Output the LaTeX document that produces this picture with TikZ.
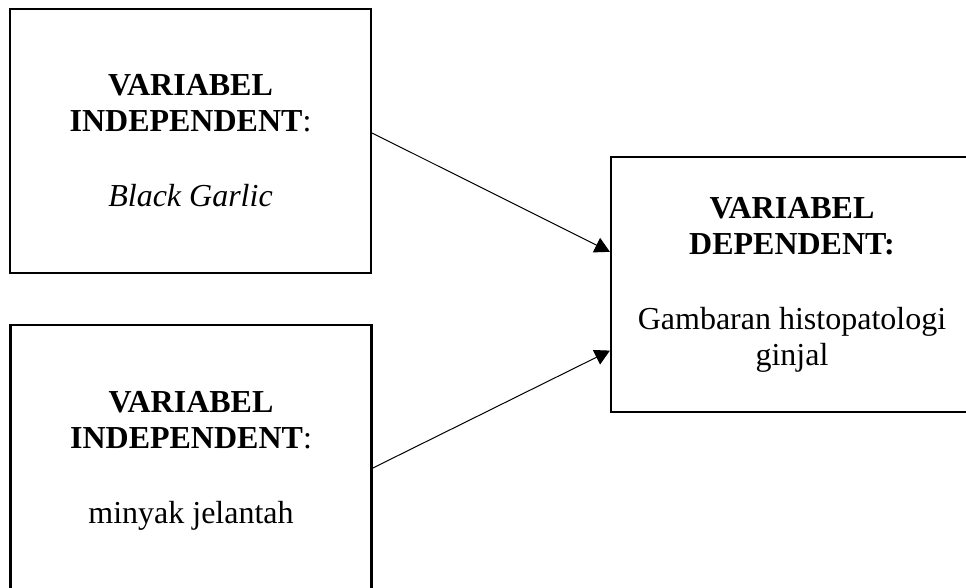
\documentclass[tikz,border=0pt]{standalone}
\usepackage{fontspec}
\setmainfont{Liberation Serif}
\usepackage{tikz}
\usetikzlibrary{arrows.meta,calc}

\begin{document}
\begin{tikzpicture}[x=1pt, y=-1pt,
		box_style/.style={rectangle,draw=black,line width=2.2pt,fill=white,align=center,
			font=\fontsize{32}{36}\selectfont},
		edge_style/.style={draw=black,line width=1pt,-{Triangle[length=15pt,width=16pt]}}]
		
		\useasboundingbox (0,0) rectangle (966,587);
		\clip (0,0) rectangle (966,587);
		
		\node[box_style, minimum width=361, minimum height=264.5] (ind1) at (190.5,141)
			{\textbf{VARIABEL}\\\textbf{INDEPENDENT}:\\[39pt]\textit{Black Garlic}};
		\node[box_style, minimum width=361, minimum height=272] (ind2) at (191,461)
			{\textbf{VARIABEL}\\\textbf{INDEPENDENT}:\\[39pt]minyak jelantah};
		\node[box_style, minimum width=362, minimum height=255] (dep) at (792,284.5)
			{\textbf{VARIABEL}\\\textbf{DEPENDENT:}\\[39pt]Gambaran histopatologi\\ginjal};
		
		
		\draw[edge_style]  ($(ind1.north east)!0.47!(ind1.south east)$) -- ($(dep.north west)!0.373!(dep.south west)$);
		\draw[edge_style]  ($(ind2.north east)!0.526!(ind2.south east)$) -- ($(dep.north west)!0.757!(dep.south west)$);
    
		\end{tikzpicture}
\end{document}
